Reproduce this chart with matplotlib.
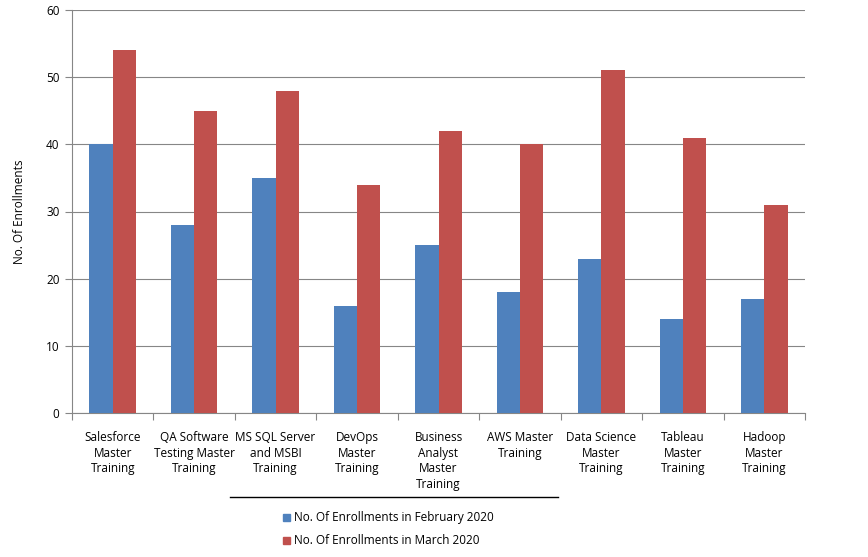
import numpy as np
import matplotlib
matplotlib.use('Agg')
import matplotlib.pyplot as plt
from matplotlib.lines import Line2D
from matplotlib.patches import Rectangle

categories = ['Salesforce\nMaster\nTraining', 'QA Software\nTesting Master\nTraining',
              'MS SQL Server\nand MSBI\nTraining', 'DevOps\nMaster\nTraining',
              'Business\nAnalyst\nMaster\nTraining', 'AWS Master\nTraining',
              'Data Science\nMaster\nTraining', 'Tableau\nMaster\nTraining',
              'Hadoop\nMaster\nTraining']
feb = [40, 28, 35, 16, 25, 18, 23, 14, 17]
mar = [54, 45, 48, 34, 42, 40, 51, 41, 31]
series_names = ['No. Of Enrollments in February 2020', 'No. Of Enrollments in March 2020']
colors = ['#4F81BD', '#C0504D']

plt.rcParams['font.family'] = ['Open Sans', 'DejaVu Sans']
plt.rcParams['font.size'] = 8.5

fig = plt.figure(figsize=(8.68, 5.57), dpi=100)
ax = fig.add_axes([72/868, 1-413/557, 733/868, 403/557])

x = np.arange(len(categories))
w = 0.286
ax.bar(x - w/2, feb, w, color=colors[0], zorder=3)
ax.bar(x + w/2, mar, w, color=colors[1], zorder=3)

ax.set_xlim(-0.5, len(categories) - 0.5)
ax.set_ylim(0, 60)
ax.set_yticks(np.arange(0, 61, 10))
ax.yaxis.grid(True, color='#868686', linewidth=0.8, zorder=0)
ax.set_xticks(np.arange(-0.5, len(categories), 1))
ax.set_xticklabels([])
ax.set_xticks(x, minor=True)
ax.set_xticklabels(categories, minor=True, linespacing=1.25)
ax.tick_params(axis='x', which='minor', length=0, pad=13)
ax.tick_params(axis='x', which='major', length=5, color='#868686')
ax.tick_params(axis='y', length=5, color='#868686', pad=4)
for s in ['top', 'right']:
    ax.spines[s].set_visible(False)
for s in ['left', 'bottom']:
    ax.spines[s].set_color('#868686')
ax.set_ylabel('No. Of Enrollments', labelpad=14)

# divider line and legend beneath chart
fig.add_artist(Line2D([230/868, 558/868], [1-497/557, 1-497/557], color='black', linewidth=1))
for i, name in enumerate(series_names):
    yy = 1 - (517 + 23*i)/557
    fig.add_artist(Rectangle((283/868, yy - 4/557), 7/868, 7/557, color=colors[i]))
    fig.text(294/868, yy, name, va='center', ha='left')

fig.savefig('out.png', dpi=100)
